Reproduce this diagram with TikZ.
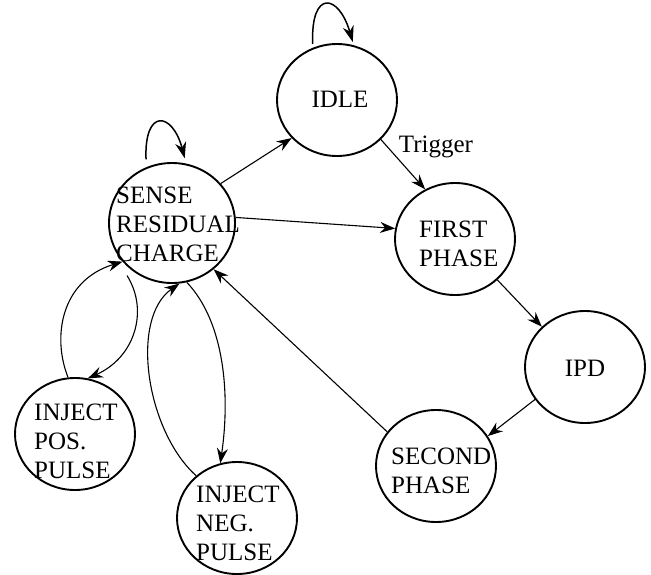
\documentclass[tikz,border=0pt]{standalone}
\usepackage{fontspec}
\setmainfont{Liberation Serif}
\usetikzlibrary{shapes.geometric,arrows.meta}
\begin{document}
\begin{tikzpicture}[x=1pt,y=-1pt,
  state/.style={draw,ellipse,line width=1.9pt,minimum width=120pt,minimum height=112pt,inner sep=0pt},
  lbl/.style={inner sep=0pt,align=left,font=\fontsize{25}{29}\selectfont},
  conn/.style={line width=1.1pt,-{Stealth[length=15pt,width=11pt,inset=5pt]}},
  loopc/.style={line width=1.5pt,-{Stealth[length=16pt,width=11pt,inset=5pt]}}
]
\useasboundingbox[fill=white] (0,0) rectangle (651,574);

% states
\node[state] (idle) at (337,100) {};
\node[state,minimum width=126pt,minimum height=120pt] (sense) at (172,223) {};
\node[state] (first) at (455,239) {};
\node[state] (ipd) at (585,367) {};
\node[state] (second) at (436,466) {};
\node[state] (pos) at (75,434) {};
\node[state] (neg) at (237,518) {};

% labels (base anchor = baseline of last line)
\node[lbl,anchor=base] (idlet) at (340,107) {IDLE};
\node[lbl,anchor=base west] (senset) at (116,261) {SENSE\\RESIDUAL\\CHARGE};
\node[lbl,anchor=base west] (firstt) at (419,266) {FIRST\\PHASE};
\node[lbl,anchor=base] (ipdt) at (585,376) {IPD};
\node[lbl,anchor=base west] (secondt) at (391,493) {SECOND\\PHASE};
\node[lbl,anchor=base west] (post) at (34,478) {INJECT\\POS.\\PULSE};
\node[lbl,anchor=base west] (negt) at (196,560) {INJECT\\NEG.\\PULSE};
\node[lbl,anchor=base] (trigger) at (436,152) {Trigger};

% self loops
\draw[loopc] ([yshift=4pt]idle.115) .. controls +(-2,-55) and +(-14,-48) .. ([yshift=3pt]idle.74);
\draw[loopc] ([yshift=8pt]sense.115) .. controls +(-2,-52) and +(-12,-46) .. ([yshift=5pt]sense.78);

% straight connectors
\draw[conn] (sense.39) -- (idle.220);
\draw[conn] (sense.5) -- (first.170);
\draw[conn] (idle.318) -- (first.121);
\draw[conn] (first.316) -- (ipd.137);
\draw[conn] (ipd.213) -- (second.30);
\draw[conn] (second.145) -- (sense.312);

% curved connectors
\draw[conn] ([shift={(-5pt,-5pt)}]sense.230) .. controls +(22,35) and +(47,-21) .. (pos.77);
\draw[conn] (pos.97) .. controls +(-16,-40) and +(-62,19) .. (sense.218);
\draw[conn] (sense.284) .. controls +(38,40) and +(10,-68) .. (neg.107);
\draw[conn] (neg.134) .. controls +(-50,-45) and +(-50,35) .. (sense.277);
\end{tikzpicture}
\end{document}
